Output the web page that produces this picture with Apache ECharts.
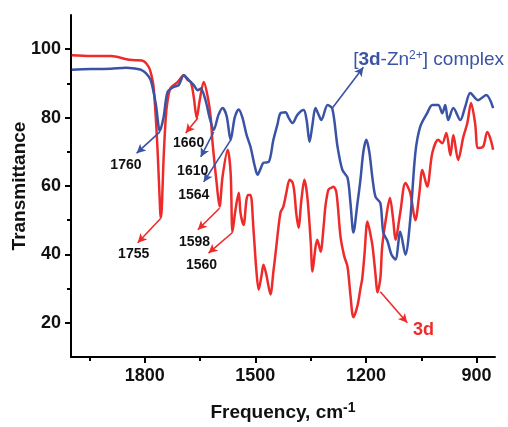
<!DOCTYPE html>
<html>
<head>
<meta charset="utf-8">
<script src="https://cdn.jsdelivr.net/npm/echarts@6/dist/echarts.min.js"></script>
<style>html,body{margin:0;padding:0;background:#fff}#c{width:508px;height:427px}</style>
</head>
<body>
<div id="c"></div>
<script>
// ---- data ----
const wnComplex = [1998,1946,1892,1851,1824,1811,1797,1784,1770,1759,1749,1738,1721,1708,1694,1681,1667,1656,1648,1635,1624,1613,1600,1589,1578,1567,1556,1545,1535,1524,1513,1502,1494,1486,1478,1464,1451,1440,1432,1418,1410,1399,1386,1369,1361,1353,1345,1337,1329,1321,1304,1291,1277,1264,1250,1242,1234,1223,1215,1207,1199,1191,1182,1174,1161,1153,1142,1131,1120,1107,1093,1080,1066,1053,1034,1020,1004,993,985,977,963,944,931,917,896,874,855];
const tComplex  = [94,94.2,94.3,94.6,94.3,94,93,91,84,76.1,80,87.5,89,89.5,92.4,91,89.5,88,88.5,85,80,76.4,80.8,82.8,80.5,73.5,80,82.4,80,75,71.4,66,63.3,65,66.8,67,73.5,78,81.3,81.6,80,78.4,80.8,82.2,79.3,72.9,78,82.8,81,79.3,83.7,82.5,71.4,64.7,62.4,55,46.4,55,61.8,70,73.5,70,62,56.8,55,46.4,44,40,38.5,46.6,39.9,50,69.7,77.3,81.3,83.7,83.7,81.3,83.7,79.3,82.8,79.3,83.1,87.2,85.1,86.6,82.8];
const wn3d = [1998,1946,1892,1846,1824,1803,1789,1781,1776,1770,1765,1759,1757,1754,1749,1743,1738,1730,1711,1694,1684,1675,1667,1659,1651,1640,1629,1621,1616,1605,1597,1589,1575,1567,1562,1554,1545,1540,1532,1524,1519,1513,1505,1497,1491,1483,1478,1470,1459,1451,1445,1432,1424,1416,1407,1399,1394,1389,1383,1375,1367,1359,1350,1345,1337,1332,1323,1315,1310,1302,1294,1288,1280,1269,1259,1250,1242,1234,1223,1215,1210,1204,1196,1188,1182,1174,1169,1161,1156,1145,1135,1126,1120,1107,1093,1080,1066,1055,1047,1034,1020,1004,993,982,971,963,950,936,925,915,904,896,882,871,863,855];
const t3d  = [98.2,98,98,97,96.8,96.5,94.8,92,88.9,80,70,55,50.7,53,67.6,80,85,88.6,90.4,92.4,91,90.4,86,79.9,85,90.4,86,80,72.6,60.9,54,62.7,70.6,63.8,46.6,53,58,52,48.6,56,57.4,57.4,47.2,35,29.7,34,37,34,28.3,35,40.5,52.2,54,58,61.8,61,58,52,47.8,56,61.8,56.8,44,35,42,44.3,40.8,48,54,58.9,59.5,59.8,58,45.2,39.5,36.4,28,21.6,25,30,33,40,49.6,46,42.3,34,28.9,33,42.3,51,56.5,50,44.3,52.2,60.9,58,50,58,64.7,59.8,69.7,73.5,72.5,75.5,69,74.9,67.6,74.3,78.4,84.3,78.4,71.1,71.5,75.8,74,70.6];
const xMajorTicks = [900,1200,1500,1800];
const xMinorTicks = [1050,1350,1650,1950];
const yMajorTicks = [20,40,60,80,100];
const yMinorTicks = [30,50,70,90];
// peak annotations: label, arrow from [wn, T] to [wn, T], label at [wn, T]
const complexPeaks = [
  {text:'1760', from:[1759,75.8], to:[1822,69.6], at:[1851,66.2]},
  {text:'1610', from:[1613,75.8], to:[1648,68.5], at:[1670,64.2]},
  {text:'1564', from:[1567,73.4], to:[1640,61.2], at:[1667,57.2]}
];
const peaks3d = [
  {text:'1660', from:[1656,79.9], to:[1689,75.5], at:[1681,72.4]},
  {text:'1755', from:[1757,50.5], to:[1819,43.4], at:[1830,40.2]},
  {text:'1598', from:[1597,53.5], to:[1656,47.2], at:[1665,43.7]},
  {text:'1560', from:[1562,46.4], to:[1627,40.4], at:[1646,37.0]}
];
const complexName = {from:[1291,82.8], to:[1207,94.7], at:[1030,96.8]};
const name3d = {from:[1161,29.1], to:[1088,20.0], at:[1044,18.0]};

// ---- chart ----
const BLUE = '#3a53a4', RED = '#ee2b2b';
const FONT = '"Liberation Sans", Arial, sans-serif';
function zip(a,b){return a.map((v,i)=>[v,b[i]]);}
function arrows(list){return list.map(p=>[{coord:p.from},{coord:p.to}]);}
function labels(list, style){return list.map(p=>({coord:p.at, value:p.text, label:Object.assign({formatter:p.text}, style||{})}));}
const plain = v => String(v);

const numStyle = {color:'#111', fontWeight:'bold', fontSize:14, fontFamily:FONT};

const gridPos = {left:71, right:13, top:15, bottom:70, containLabel:false, outerBoundsMode:'none'};
const xBase = {type:'value', inverse:true, min:850, max:2000, splitLine:{show:false}};
const yBase = {type:'value', min:10, max:110, splitLine:{show:false}};

const option = {
  animation:false,
  backgroundColor:'#fff',
  grid:[Object.assign({}, gridPos), Object.assign({}, gridPos)],
  xAxis:[
    Object.assign({}, xBase, {
      gridIndex:0,
      axisLine:{show:true, lineStyle:{color:'#000', width:2}},
      axisTick:{show:true, customValues:xMajorTicks, length:6, lineStyle:{color:'#000', width:2}},
      axisLabel:{customValues:xMajorTicks, formatter:plain, margin:10, color:'#111', fontWeight:'bold', fontSize:18, fontFamily:FONT},
      name:'{a|Frequency, cm}{s|-1}',
      nameLocation:'middle', nameGap:44,
      nameTextStyle:{rich:{
        a:{color:'#111', fontWeight:'bold', fontSize:19, fontFamily:FONT},
        s:{color:'#111', fontWeight:'bold', fontSize:14, fontFamily:FONT, verticalAlign:'bottom', padding:[0,0,10,0]}
      }}
    }),
    Object.assign({}, xBase, {
      gridIndex:1,
      axisLine:{show:false},
      axisTick:{show:true, customValues:xMinorTicks, length:4, lineStyle:{color:'#000', width:2}},
      axisLabel:{show:false}
    })
  ],
  yAxis:[
    Object.assign({}, yBase, {
      gridIndex:0,
      axisLine:{show:true, lineStyle:{color:'#000', width:2}},
      axisTick:{show:true, customValues:yMajorTicks, length:6, lineStyle:{color:'#000', width:2}},
      axisLabel:{customValues:yMajorTicks, formatter:plain, margin:10, color:'#111', fontWeight:'bold', fontSize:18, fontFamily:FONT},
      name:'Transmittance', nameLocation:'middle', nameGap:42, nameRotate:90, nameMoveOverlap:false,
      nameTextStyle:{color:'#111', fontWeight:'bold', fontSize:19, fontFamily:FONT}
    }),
    Object.assign({}, yBase, {
      gridIndex:1,
      axisLine:{show:false},
      axisTick:{show:true, customValues:yMinorTicks, length:4, lineStyle:{color:'#000', width:2}},
      axisLabel:{show:false}
    })
  ],
  series:[
    {
      name:'[3d-Zn2+] complex', type:'line', xAxisIndex:0, yAxisIndex:0,
      data:zip(wnComplex, tComplex), showSymbol:false, smooth:0.3,
      lineStyle:{color:BLUE, width:2.5}, itemStyle:{color:BLUE}, z:3,
      markLine:{silent:true, symbol:['none','arrow'], symbolSize:[7,9], label:{show:false},
        lineStyle:{color:BLUE, width:1.6, type:'solid'},
        data:arrows(complexPeaks.concat([complexName]))},
      markPoint:{silent:true, symbol:'circle', symbolSize:1, itemStyle:{color:'rgba(0,0,0,0)'},
        label:{show:true, position:'inside'},
        data:labels(complexPeaks, numStyle).concat([{coord:complexName.at, value:'c', label:{
          formatter:'{r|[}{b|3d}{r|-Zn}{s|2+}{r|] complex}',
          rich:{
            r:{color:BLUE, fontSize:19, fontFamily:FONT},
            b:{color:BLUE, fontSize:19, fontWeight:'bold', fontFamily:FONT},
            s:{color:BLUE, fontSize:12, fontFamily:FONT, verticalAlign:'bottom', padding:[0,0,9,0]}
          }}}])}
    },
    {
      name:'3d', type:'line', xAxisIndex:0, yAxisIndex:0,
      data:zip(wn3d, t3d), showSymbol:false, smooth:0.3,
      lineStyle:{color:RED, width:2.5}, itemStyle:{color:RED}, z:2,
      markLine:{silent:true, symbol:['none','arrow'], symbolSize:[7,9], label:{show:false},
        lineStyle:{color:RED, width:1.6, type:'solid'},
        data:arrows(peaks3d.concat([name3d]))},
      markPoint:{silent:true, symbol:'circle', symbolSize:1, itemStyle:{color:'rgba(0,0,0,0)'},
        label:{show:true, position:'inside'},
        data:labels(peaks3d, numStyle).concat([{coord:name3d.at, value:'3d', label:{formatter:'3d',
          color:RED, fontWeight:'bold', fontSize:18, fontFamily:FONT}}])}
    }
  ]
};
const chart = echarts.init(document.getElementById('c'), null, {renderer:'canvas'});
chart.setOption(option);
</script>
</body>
</html>
